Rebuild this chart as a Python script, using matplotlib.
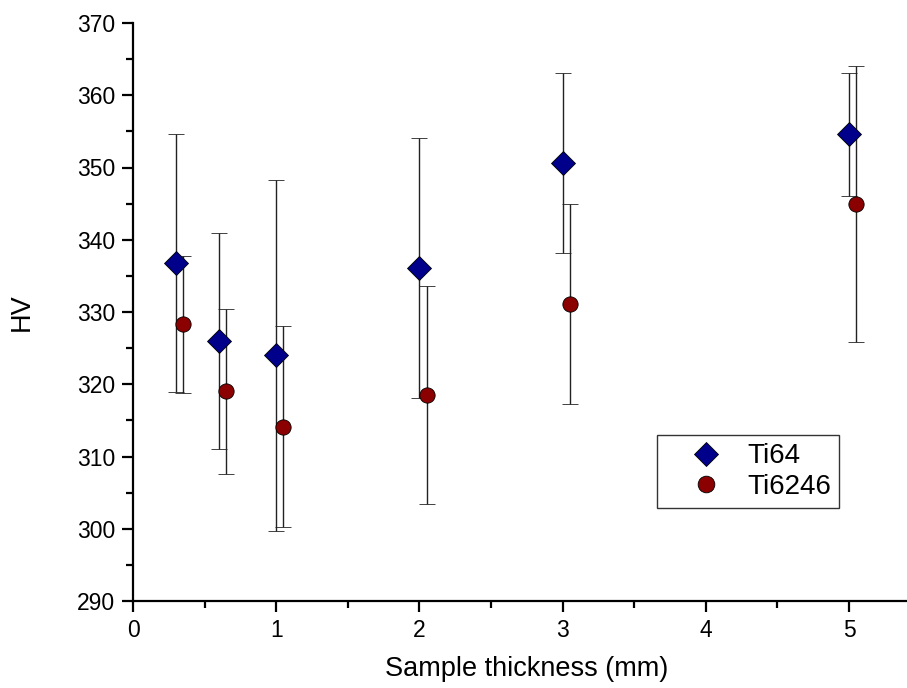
import matplotlib
matplotlib.use("Agg")
import matplotlib.pyplot as plt
from matplotlib.ticker import MultipleLocator
from matplotlib.lines import Line2D

plt.rcParams['font.family'] = ['Liberation Sans', 'DejaVu Sans']

x_ti64 = [0.3, 0.6, 1.0, 2.0, 3.0, 5.0]
hv_ti64 = [336.8, 326.0, 324.0, 336.1, 350.6, 354.6]
err_ti64 = [17.9, 14.9, 24.3, 18.0, 12.5, 8.5]

x_ti6246 = [0.35, 0.65, 1.05, 2.05, 3.05, 5.05]
hv_ti6246 = [328.3, 319.0, 314.1, 318.5, 331.1, 344.9]
err_ti6246 = [9.5, 11.4, 13.9, 15.1, 13.8, 19.1]

c64 = '#00008B'
c6246 = '#8B0000'

fig = plt.figure(figsize=(9.07, 6.88), dpi=100)
ax = fig.add_axes([133/907, 87/688, (5.5*143.2)/907, 578/688])

ax.errorbar(x_ti64, hv_ti64, yerr=err_ti64, fmt='D', color=c64,
            markeredgecolor='black', markeredgewidth=0.6, markersize=12,
            ecolor='#222222', elinewidth=1.0, capsize=6, capthick=1.0,
            zorder=3)
ax.errorbar(x_ti6246, hv_ti6246, yerr=err_ti6246, fmt='o', color=c6246,
            markeredgecolor='black', markeredgewidth=0.6, markersize=11,
            ecolor='#222222', elinewidth=1.0, capsize=6, capthick=1.0,
            zorder=3)

ax.set_xlim(0, 5.5)
ax.set_ylim(290, 370)
ax.xaxis.set_major_locator(MultipleLocator(1))
ax.xaxis.set_minor_locator(MultipleLocator(0.5))
ax.yaxis.set_major_locator(MultipleLocator(10))
ax.yaxis.set_minor_locator(MultipleLocator(5))

for s in ['top', 'right']:
    ax.spines[s].set_visible(False)
for s in ['left', 'bottom']:
    ax.spines[s].set_linewidth(1.6)

ax.tick_params(which='major', direction='out', length=8, width=1.6, labelsize=16.5, pad=5)
ax.tick_params(which='minor', direction='out', length=5, width=1.6)

ax.set_xlabel('Sample thickness (mm)', fontsize=19.5, labelpad=10)
ax.set_ylabel('HV', fontsize=19.5, labelpad=30)

handles = [
    Line2D([], [], linestyle='none', marker='D', color=c64, markeredgecolor='black',
           markeredgewidth=0.6, markersize=12.5),
    Line2D([], [], linestyle='none', marker='o', color=c6246, markeredgecolor='black',
           markeredgewidth=0.6, markersize=12),
]
leg = ax.legend(handles, ['Ti64', 'Ti6246'], loc='upper left',
                bbox_to_anchor=(0.6653, 0.287), fontsize=20,
                frameon=True, fancybox=False, edgecolor='#333333', framealpha=1,
                handletextpad=0.0, borderpad=0.3, labelspacing=0.15,
                handlelength=2.95, borderaxespad=0)
leg.get_frame().set_linewidth(1.0)

fig.savefig('out.png', dpi=100)
